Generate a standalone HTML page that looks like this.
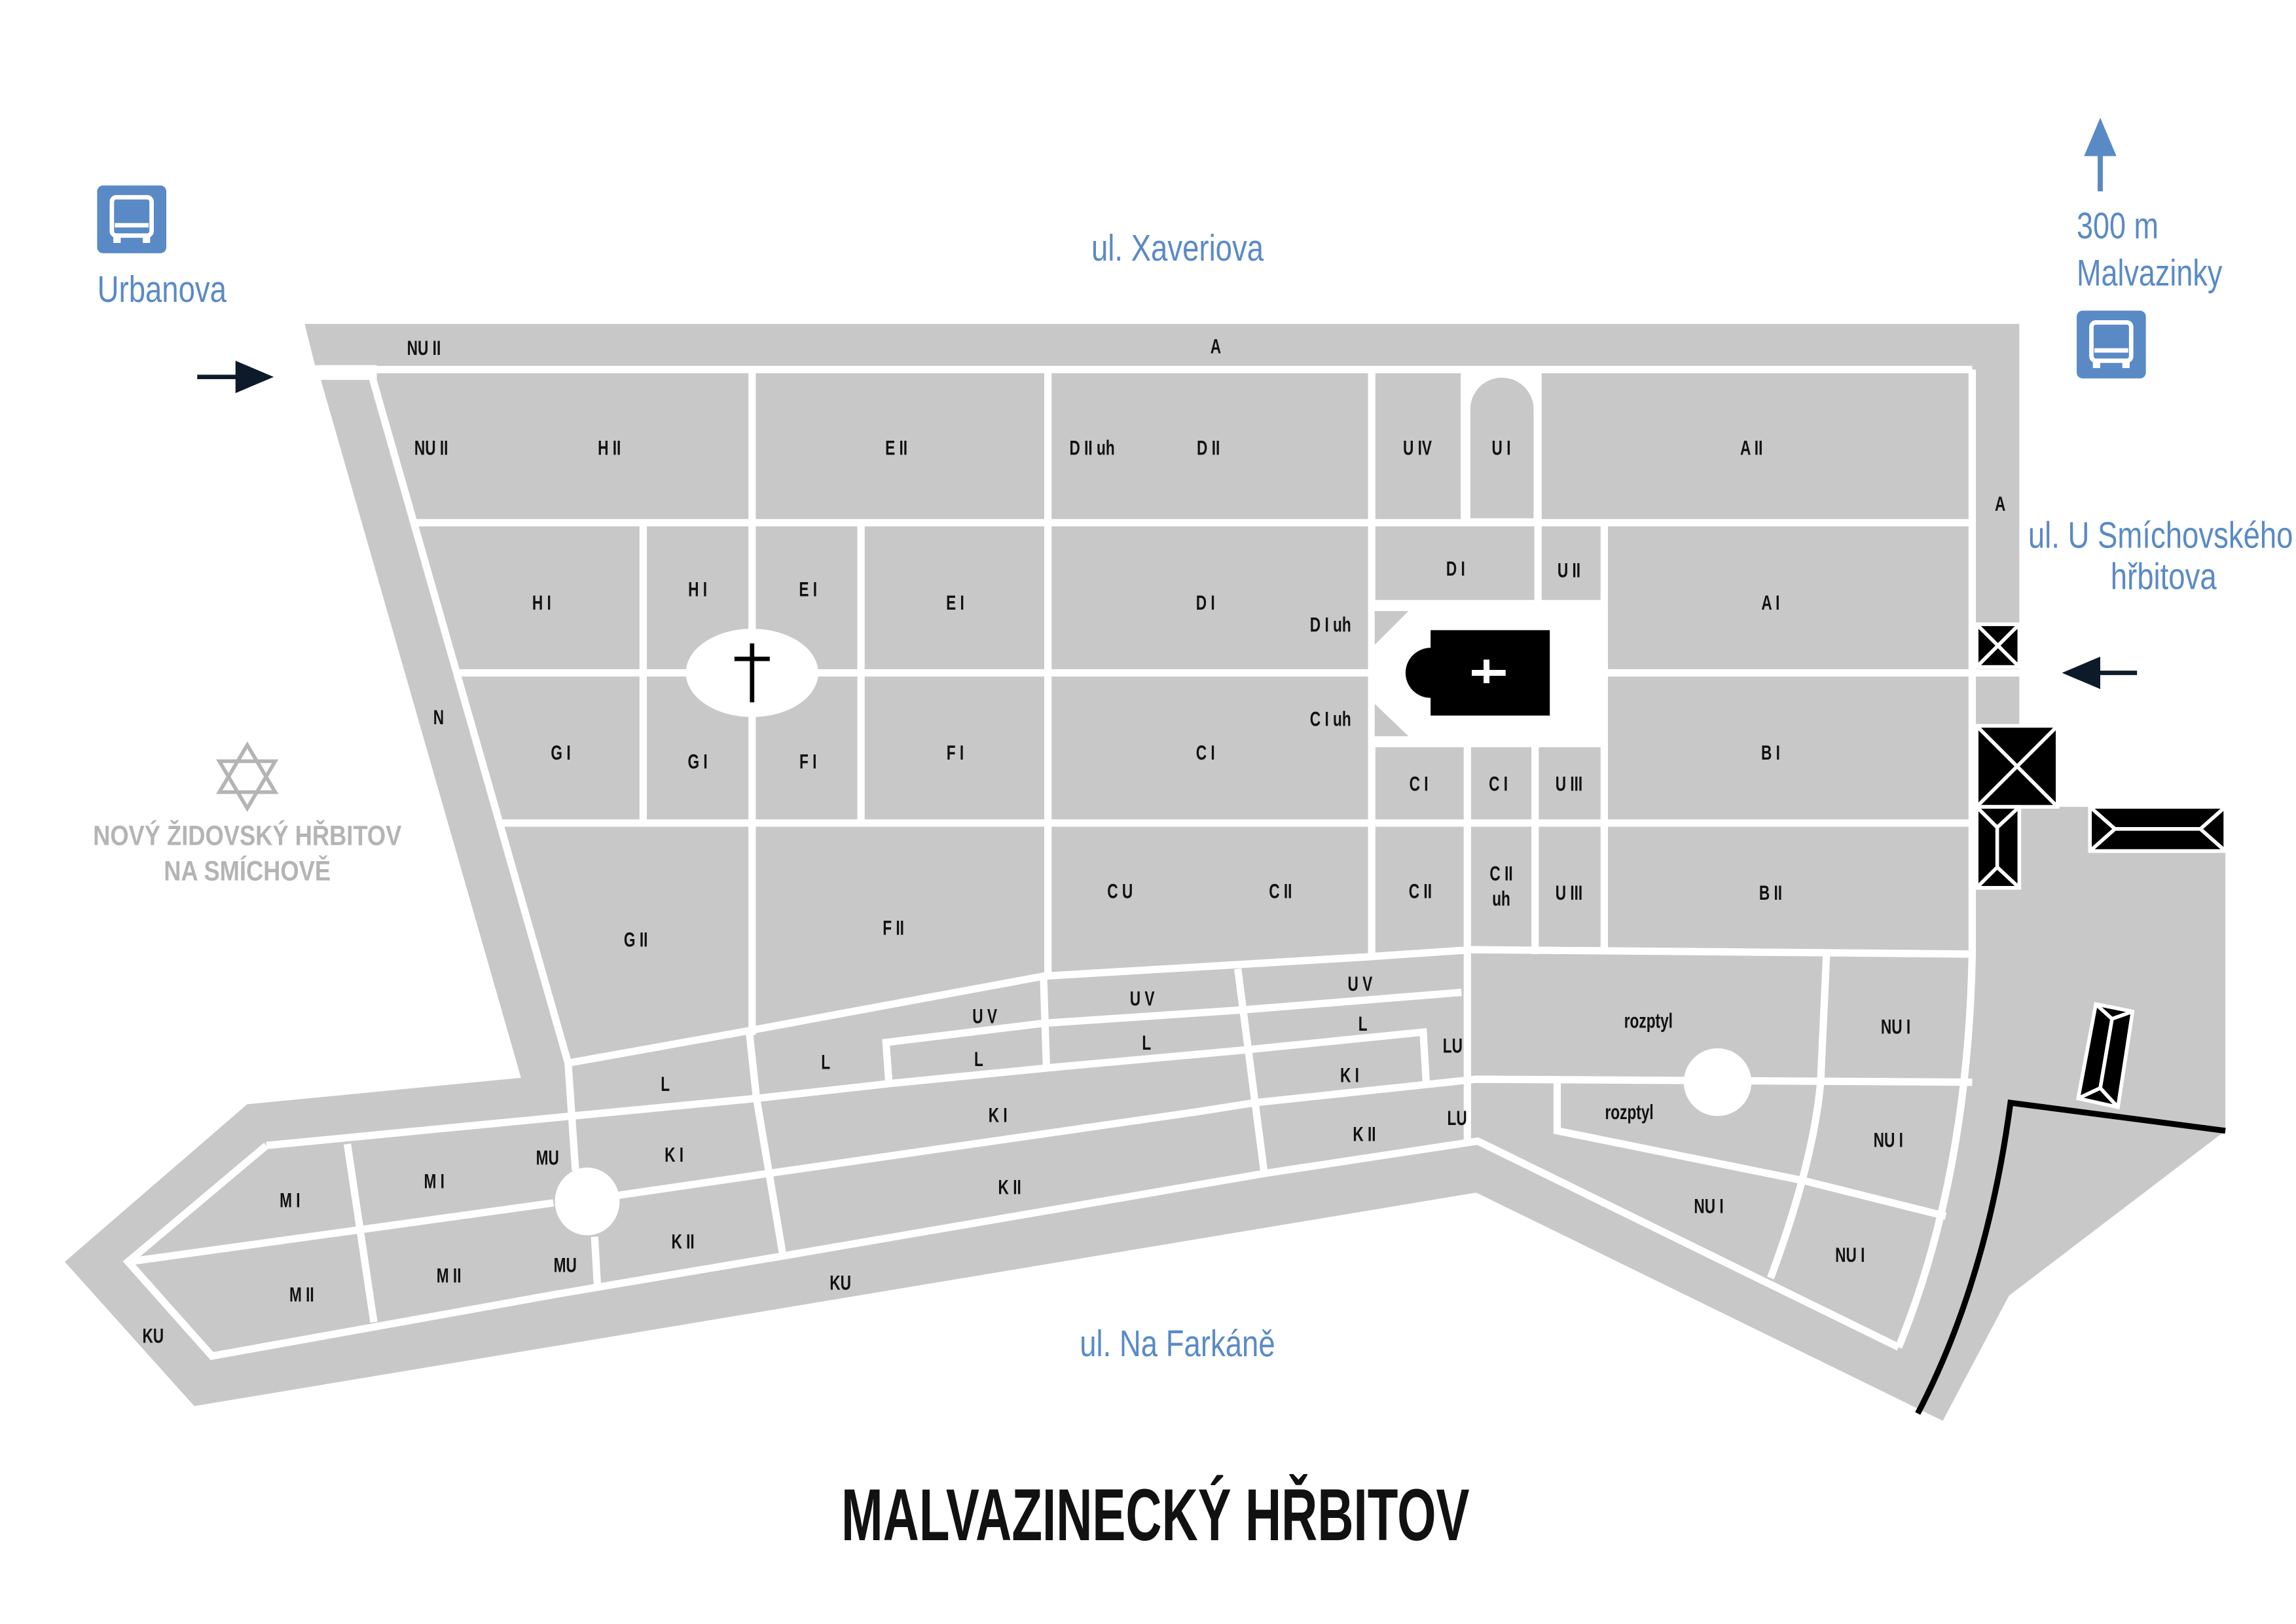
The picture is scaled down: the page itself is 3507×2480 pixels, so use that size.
<!DOCTYPE html>
<html><head><meta charset="utf-8"><style>
html,body{margin:0;padding:0;background:#fff;}
svg{display:block}
text{transform-box:fill-box;transform-origin:center;}
.s{font-family:"Liberation Sans",sans-serif;font-size:14px;font-weight:bold;fill:#111;text-anchor:middle;transform:scaleX(0.72)}
.b{font-family:"Liberation Sans",sans-serif;font-size:25px;fill:#5a8ac6;text-anchor:middle;transform:scaleX(0.81)}
.bl{font-family:"Liberation Sans",sans-serif;font-size:25px;fill:#5a8ac6;text-anchor:start;transform-origin:left center;transform:scaleX(0.8)}
</style></head><body>
<svg width="3507" height="2480" viewBox="0 0 1560 1103" preserveAspectRatio="none" xmlns="http://www.w3.org/2000/svg">
<rect width="1560" height="1103" fill="#fff"/>
<polygon fill="#c8c8c8" points="207,220 1372,220 1372,548 1512,548 1512,768 1365,880 1320,965 1003,810 132,955 44,857 168,750 354,732 218,258 214,248"/>
<rect x="198" y="248" width="58" height="10" fill="#fff"/>
<g fill="none" stroke="#fff" stroke-width="5" stroke-linejoin="miter">
<polyline points="208,251 1340,251"/>
<path d="M1340,251 L1340,648 Q1337,800 1290,915"/>
<polyline points="252,253 386,722 391,795"/>
<polyline points="404,840 406,875"/>
<polyline points="282,355 1340,355"/>
<polyline points="310,457 1376,457"/>
<polyline points="340,559 1340,559"/>
<polyline points="511,251 511,703"/>
<polyline points="712,251 712,664"/>
<polyline points="932,251 932,648"/>
<polyline points="995,251 995,355"/>
<polyline points="1045,251 1045,410"/>
<polyline points="437,355 437,559"/>
<polyline points="585,355 585,559"/>
<polyline points="1090,355 1090,648"/>
<polyline points="932,410 1090,410"/>
<polyline points="932,505 1090,505"/>
<polyline points="997,505 997,776"/>
<polyline points="1043,505 1043,648"/>
<polyline points="386,722 509,700 709,663 927,650 1000,645 1340,648"/>
<polyline points="604,736 602,708 709,695 843,686 993,674"/>
<polyline points="841,658 859,797"/>
<polyline points="709,663 711,725"/>
<polyline points="378,759 514,746 604,736 715,725 847,713 967,701 969,735"/>
<polyline points="419,812 522,797 814,755 852,749 1003,733 1340,735"/>
<polyline points="509,700 514,746 532,853"/>
<polyline points="181,778 378,759"/>
<polyline points="181,778 87,857 144,921 378,879 532,853 859,797 1004,775 1290,915"/>
<polyline points="87,857 376,817"/>
<polyline points="236,777 254,898"/>
<path d="M1241,648 L1237,735 Q1232,790 1203,868"/>
<polyline points="1058,735 1058,768 1226,802 1322,826"/>
</g>
<ellipse cx="511" cy="457" rx="45" ry="30" fill="#fff"/>
<ellipse cx="399" cy="816" rx="22" ry="23" fill="#fff"/>
<ellipse cx="1167" cy="735" rx="23" ry="23" fill="#fff"/>
<rect x="509.5" y="437" width="3" height="40" fill="#000"/>
<rect x="499" y="446" width="24" height="3" fill="#000"/>
<rect x="996" y="252" width="48" height="103" fill="#fff"/>
<path d="M999,352 V278 A21,21 0 0 1 1042,278 V352 Z" fill="#c8c8c8"/>
<rect x="932" y="411" width="160" height="94" fill="#fff"/>
<polygon points="934,415 957,415 934,438" fill="#c8c8c8"/>
<polygon points="934,478 957,500 934,500" fill="#c8c8c8"/>
<rect x="972" y="428" width="81" height="58" fill="#000"/>
<circle cx="972" cy="457" r="17" fill="#000"/>
<rect x="1000" y="455" width="23" height="4" fill="#fff"/>
<rect x="1008" y="448" width="4" height="16" fill="#fff"/>
<g stroke="#fff" stroke-width="2.5">
<rect x="1343" y="424" width="29" height="29" fill="#000"/>
<line x1="1343" y1="424" x2="1372" y2="453"/><line x1="1372" y1="424" x2="1343" y2="453"/>
<rect x="1343" y="493" width="55" height="55" fill="#000"/>
<line x1="1343" y1="493" x2="1398" y2="548"/><line x1="1398" y1="493" x2="1343" y2="548"/>
<rect x="1343" y="548" width="29" height="55" fill="#000"/>
<polyline fill="none" points="1343,548 1357,562 1372,548"/><line x1="1357" y1="562" x2="1357" y2="589"/><polyline fill="none" points="1343,603 1357,589 1372,603"/>
<rect x="1420" y="548" width="92" height="30" fill="#000"/>
<polyline fill="none" points="1420,548 1437,563 1420,578"/><line x1="1437" y1="563" x2="1495" y2="563"/><polyline fill="none" points="1512,548 1495,563 1512,578"/>
<polygon points="1424,682 1449,687 1439,752 1412,746" fill="#000"/>
<polyline fill="none" points="1424,682 1435,692 1449,687"/><line x1="1435" y1="692" x2="1427" y2="739"/><polyline fill="none" points="1412,746 1427,739 1439,752"/>
</g>
<path d="M1512,768 L1366,749 Q1350,870 1303,960" fill="none" stroke="#000" stroke-width="4"/>
<line x1="134" y1="256" x2="165" y2="256" stroke="#0d1a2a" stroke-width="3"/>
<polygon points="160,245 186,256 160,267" fill="#0d1a2a"/>
<line x1="1425" y1="457" x2="1452" y2="457" stroke="#0d1a2a" stroke-width="3"/>
<polygon points="1401,457 1427,446 1427,468" fill="#0d1a2a"/>
<line x1="1427" y1="102" x2="1427" y2="130" stroke="#5a8ac6" stroke-width="3.5"/>
<polygon points="1416,106 1427,80 1438,106" fill="#5a8ac6"/>
<g>
<rect x="66" y="126" width="47" height="46" rx="4" fill="#5a8ac6"/>
<rect x="76" y="134" width="27" height="26" rx="3" fill="none" stroke="#fff" stroke-width="3"/>
<line x1="78" y1="153" x2="101" y2="153" stroke="#fff" stroke-width="3"/>
<rect x="77" y="159" width="5" height="6" fill="#fff"/><rect x="97" y="159" width="5" height="6" fill="#fff"/>
</g>
<g>
<rect x="1411" y="211" width="47" height="46" rx="4" fill="#5a8ac6"/>
<rect x="1421" y="219" width="27" height="26" rx="3" fill="none" stroke="#fff" stroke-width="3"/>
<line x1="1423" y1="238" x2="1446" y2="238" stroke="#fff" stroke-width="3"/>
<rect x="1422" y="244" width="5" height="6" fill="#fff"/><rect x="1442" y="244" width="5" height="6" fill="#fff"/>
</g>
<g fill="none" stroke="#b4b4b4" stroke-width="2.5">
<polygon points="168,506 187,538 149,538"/>
<polygon points="168,549 149,517 187,517"/>
</g>
<g font-family="'Liberation Sans',sans-serif" font-weight="bold" font-size="19" fill="#b4b4b4" text-anchor="middle">
<text x="168" y="574" style="transform:scaleX(0.85)">NOVÝ ŽIDOVSKÝ HŘBITOV</text>
<text x="168" y="598" style="transform:scaleX(0.85)">NA SMÍCHOVĚ</text>
</g>
<text class="b" x="800" y="177">ul. Xaveriova</text>
<text class="b" x="110" y="205">Urbanova</text>
<text class="bl" x="1411" y="162">300 m</text>
<text class="bl" x="1411" y="194">Malvazinky</text>
<text class="b" x="1468" y="372">ul. U Smíchovského</text>
<text class="b" x="1470" y="400">hřbitova</text>
<text class="b" x="800" y="921">ul. Na Farkáně</text>
<text x="785" y="1046" font-family="'Liberation Sans',sans-serif" font-weight="bold" font-size="50" fill="#111" text-anchor="middle" style="transform:scaleX(0.68)">MALVAZINECKÝ HŘBITOV</text>
<g>
<text class="s" x="288" y="241">NU II</text><text class="s" x="826" y="240">A</text>
<text class="s" x="293" y="309">NU II</text><text class="s" x="414" y="309">H II</text><text class="s" x="609" y="309">E II</text>
<text class="s" x="742" y="309">D II uh</text><text class="s" x="821" y="309">D II</text><text class="s" x="963" y="309">U IV</text>
<text class="s" x="1020" y="309">U I</text><text class="s" x="1190" y="309">A II</text><text class="s" x="1359" y="347">A</text>
<text class="s" x="368" y="414">H I</text><text class="s" x="474" y="405">H I</text><text class="s" x="549" y="405">E I</text>
<text class="s" x="649" y="414">E I</text><text class="s" x="819" y="414">D I</text><text class="s" x="904" y="429">D I uh</text>
<text class="s" x="989" y="391">D I</text><text class="s" x="1066" y="392">U II</text><text class="s" x="1203" y="414">A I</text>
<text class="s" x="298" y="492">N</text><text class="s" x="381" y="516">G I</text><text class="s" x="474" y="522">G I</text>
<text class="s" x="549" y="522">F I</text><text class="s" x="649" y="516">F I</text><text class="s" x="819" y="516">C I</text>
<text class="s" x="904" y="493">C I uh</text><text class="s" x="964" y="537">C I</text><text class="s" x="1018" y="537">C I</text>
<text class="s" x="1066" y="537">U III</text><text class="s" x="1203" y="516">B I</text>
<text class="s" x="432" y="643">G II</text><text class="s" x="607" y="635">F II</text><text class="s" x="761" y="610">C U</text>
<text class="s" x="870" y="610">C II</text><text class="s" x="965" y="610">C II</text><text class="s" x="1020" y="598">C II</text>
<text class="s" x="1020" y="615">uh</text><text class="s" x="1066" y="611">U III</text><text class="s" x="1203" y="611">B II</text>
<text class="s" x="669" y="695">U V</text><text class="s" x="776" y="683">U V</text><text class="s" x="924" y="673">U V</text>
<text class="s" x="926" y="700">L</text><text class="s" x="452" y="741">L</text><text class="s" x="561" y="726">L</text>
<text class="s" x="665" y="724">L</text><text class="s" x="779" y="713">L</text><text class="s" x="987" y="715">LU</text>
<text class="s" x="917" y="735">K I</text><text class="s" x="990" y="764">LU</text><text class="s" x="678" y="762">K I</text>
<text class="s" x="927" y="775">K II</text><text class="s" x="686" y="811">K II</text><text class="s" x="458" y="789">K I</text>
<text class="s" x="464" y="848">K II</text><text class="s" x="372" y="791">MU</text><text class="s" x="384" y="864">MU</text>
<text class="s" x="295" y="807">M I</text><text class="s" x="197" y="820">M I</text><text class="s" x="305" y="871">M II</text>
<text class="s" x="205" y="884">M II</text><text class="s" x="104" y="912">KU</text><text class="s" x="571" y="876">KU</text>
<text class="s" x="1120" y="698">rozptyl</text><text class="s" x="1107" y="760">rozptyl</text>
<text class="s" x="1288" y="702">NU I</text><text class="s" x="1283" y="779">NU I</text>
<text class="s" x="1161" y="824">NU I</text><text class="s" x="1257" y="857">NU I</text>
</g>
</svg>
</body></html>
